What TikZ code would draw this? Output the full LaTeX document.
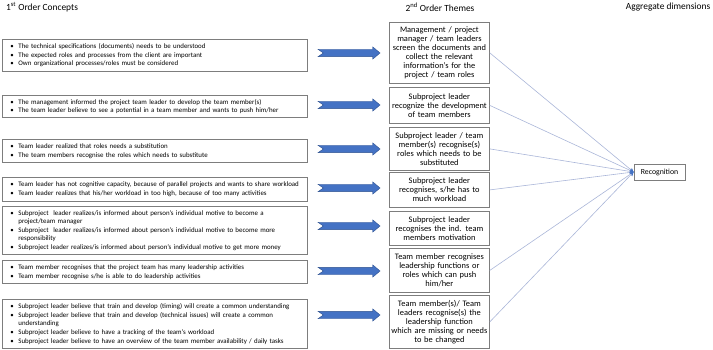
\documentclass[tikz,border=0pt]{standalone}
\usepackage{fontspec}
\setmainfont{Carlito}
\usetikzlibrary{arrows.meta}
\definecolor{boxline}{RGB}{125,125,125}
\definecolor{arrowfill}{RGB}{68,114,196}
\definecolor{arrowline}{RGB}{47,82,143}
\definecolor{linkcol}{RGB}{170,182,216}
\newcommand{\bl}[1]{\mbox{\makebox[8pt][l]{\textbullet}#1}}
\newcommand{\cl}[1]{\mbox{\hspace*{8pt}#1}}
\tikzset{
  lbox/.style={draw=boxline, line width=0.8pt, rectangle, anchor=north west,
    minimum width=305.5pt, text width=288.5pt, inner xsep=8.5pt, inner ysep=0pt,
    align=left, font=\fontsize{6.9}{8.6}\selectfont},
  rbox/.style={draw=boxline, line width=0.8pt, rectangle, anchor=north west,
    minimum width=100pt, text width=96pt, inner xsep=2pt, inner ysep=0pt,
    align=center, font=\fontsize{8.4}{9}\selectfont},
  head/.style={font=\fontsize{9.4}{10}\selectfont, inner sep=0pt},
  link/.style={draw=linkcol, line width=0.6pt, -{Stealth[length=4pt,width=4pt,color=arrowfill]}},
  barrow/.pic={\path[fill=arrowfill, draw=arrowline, line width=0.4pt]
    (-31,-3.7) -- (23.7,-3.7) -- (23.7,-6.2) -- (31,0) -- (23.7,6.2) -- (23.7,3.7)
    -- (-31,3.7) -- (-25.7,0) -- cycle;}
}
\begin{document}
\begin{tikzpicture}[x=1pt,y=-1pt]
\useasboundingbox (0,0) rectangle (713,350);
% headers
\node[head, anchor=west] (h1) at (6,7) {1\textsuperscript{st} Order Concepts};
\node[head] (h2) at (440,7) {2\textsuperscript{nd} Order Themes};
\node[head] (h3) at (668,7) {Aggregate dimensions};
% left boxes
\node[lbox, minimum height=32pt] (l1) at (1.5,39) {\bl{The technical specifications (documents) needs to be understood}\\
\bl{The expected roles and processes from the client are important}\\
\bl{Own organizational processes/roles must be considered}};
\node[lbox, minimum height=22pt] (l2) at (1.5,95) {\bl{The management informed the project team leader to develop the team member(s)}\\
\bl{The team leader believe to see a potential in a team member and wants to push him/her}};
\node[lbox, minimum height=23pt] (l3) at (1.5,139) {\bl{Team leader realized that roles needs a substitution}\\
\bl{The team members recognise the roles which needs to substitute}};
\node[lbox, minimum height=24pt] (l4) at (1.5,177) {\bl{Team leader has not cognitive capacity, because of parallel projects and wants to share workload}\\
\bl{Team leader realizes that his/her workload in too high, because of too many activities}};
\node[lbox, minimum height=48pt] (l5) at (1.5,206) {\bl{Subproject\ \ leader realizes/is informed about person's individual motive to become a}\\
\cl{project/team manager}\\
\bl{Subproject\ \ leader realizes/is informed about person's individual motive to become more}\\
\cl{responsibility}\\
\bl{Subproject leader realizes/is informed about person's individual motive to get more money}};
\node[lbox, minimum height=23pt] (l6) at (1.5,260) {\bl{Team member recognises that the project team has many leadership activities}\\
\bl{Team member recognise s/he is able to do leadership activities}};
\node[lbox, minimum height=49pt] (l7) at (1.5,299) {\bl{Subproject leader believe that train and develop (timing) will create a common understanding}\\
\bl{Subproject leader believe that train and develop (technical issues) will create a common}\\
\cl{understanding}\\
\bl{Subproject leader believe to have a tracking of the team's workload}\\
\bl{Subproject leader believe to have an overview of the team member availability / daily tasks}};
% block arrows
\pic at (349,53) {barrow};
\pic at (349,105) {barrow};
\pic at (349,149) {barrow};
\pic at (349,188) {barrow};
\pic at (349,226) {barrow};
\pic at (349,271) {barrow};
\pic at (349,315) {barrow};
% right boxes
\node[rbox, minimum height=61pt] (r1) at (389,22) {Management / project\\manager / team leaders\\screen the documents and\\collect the relevant\\information's for the\\project / team roles};
\node[rbox, minimum height=36pt] (r2) at (389,87) {Subproject leader\\recognize the development\\of team members};
\node[rbox, minimum height=43pt] (r3) at (389,127) {Subproject leader / team\\member(s) recognise(s)\\roles which needs to be\\substituted};
\node[rbox, minimum height=35pt] (r4) at (389,172) {Subproject leader\\recognises, s/he has to\\much workload};
\node[rbox, minimum height=34pt] (r5) at (389,211) {Subproject leader\\recognises the ind. team\\members motivation};
\node[rbox, minimum height=44pt] (r6) at (389,248) {Team member recognises\\leadership functions or\\roles which can push\\him/her};
\node[rbox, minimum height=53pt] (r7) at (389,295) {Team member(s)/ Team\\leaders recognise(s) the\\leadership function\\which are missing or needs\\to be changed};
% aggregate
\node[draw=boxline, line width=0.8pt, minimum width=51pt, minimum height=16pt, inner sep=0pt,
  font=\fontsize{7.8}{9}\selectfont] (rec) at (659.5,172) {Recognition};
% links
\foreach \n in {r1,r2,r3,r4,r6,r7}
  \draw[link] (\n.east) -- (rec.west);
\end{tikzpicture}
\end{document}
